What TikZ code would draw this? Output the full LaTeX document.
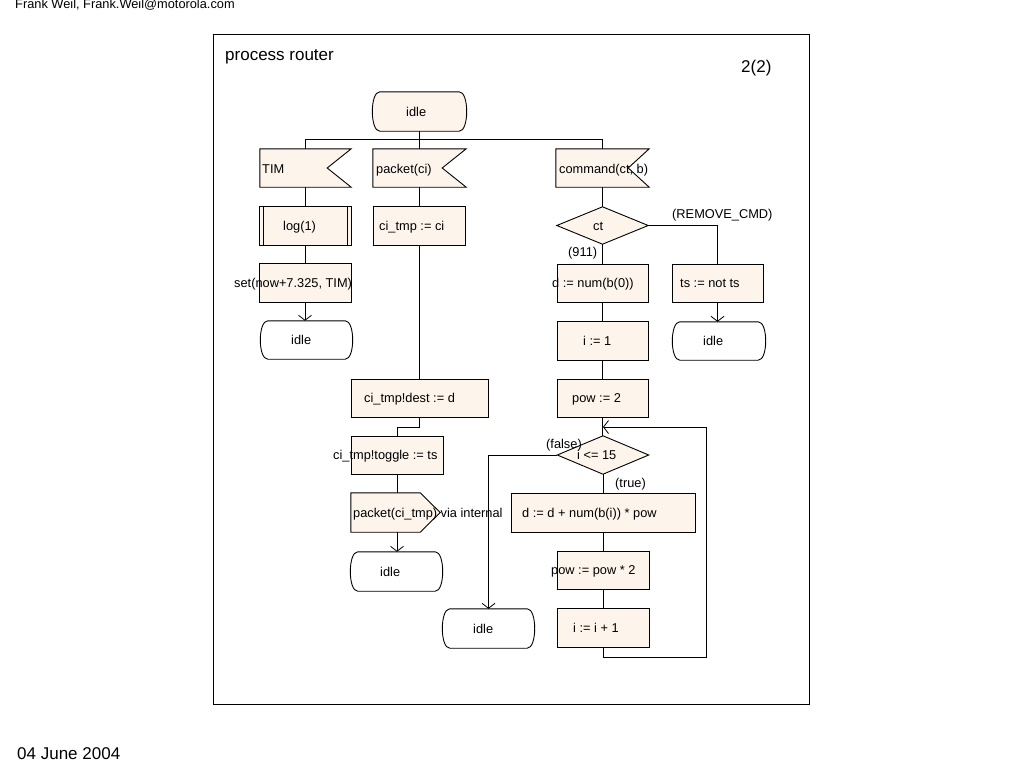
\documentclass[tikz,border=0pt]{standalone}
\usepackage{fontspec}
\setmainfont{Liberation Sans}
\usetikzlibrary{arrows.meta,calc}
\definecolor{cream}{RGB}{253,245,236}
\newcommand\TermShape[2]{%
  \draw[draw=black,line width=0.9pt,fill=#2] ([xshift=7pt]#1.north west) -- ([xshift=-7pt]#1.north east)
    .. controls ([xshift=3pt]#1.north east) and ([xshift=3pt]#1.south east) .. ([xshift=-7pt]#1.south east)
    -- ([xshift=7pt]#1.south west)
    .. controls ([xshift=-3pt]#1.south west) and ([xshift=-3pt]#1.north west) .. ([xshift=7pt]#1.north west) -- cycle;}
\begin{document}
\begin{tikzpicture}[x=1pt,y=-1pt,
  shp/.style={draw=none,fill=none,inner sep=0pt,minimum width=92pt,minimum height=39pt},
  box/.style={draw=black,fill=cream,line width=0.9pt,inner sep=0pt,minimum width=92pt,minimum height=39pt},
  outl/.style={draw=black,fill=cream,line width=0.9pt},
  txt/.style={anchor=west,inner sep=0pt,font=\fontsize{12.8}{14}\selectfont,text height=9pt,text depth=0pt},
  wire/.style={line width=0.8pt},
  arr/.style={wire,-{Straight Barb[length=5pt,width=13pt]}},
]
\useasboundingbox (0,0) rectangle (1024,768);
% frame and page texts
\draw[line width=0.9pt] (213,34) rectangle (809,704);
\node[anchor=base west,inner sep=0pt,font=\fontsize{12.8}{14}\selectfont] (hdr) at (15,9) {Frank Weil, Frank.Weil@motorola.com};
\node[anchor=base west,inner sep=0pt,font=\fontsize{17}{19}\selectfont] (date) at (17,759) {04 June 2004};
\node[anchor=base west,inner sep=0pt,font=\fontsize{17}{19}\selectfont] (title) at (225,60) {process router};
\node[anchor=base west,inner sep=0pt,font=\fontsize{17}{19}\selectfont] (page) at (741,72) {2(2)};

% start state
\node[shp,minimum width=93pt] (idle0) at (419.5,111.5) {};
\TermShape{idle0}{cream}

% input signals
\node[shp,minimum width=91pt,minimum height=38pt] (tim) at (305.5,168) {};
\node[shp,minimum width=93pt,minimum height=38pt] (pkt) at (419.5,168) {};
\node[shp,minimum width=93pt,minimum height=38pt] (cmd) at (602.5,168) {};
\draw[outl] (tim.north west) -- (tim.north east) -- ([xshift=-24pt]tim.east) -- (tim.south east) -- (tim.south west) -- cycle;
\draw[outl] (pkt.north west) -- (pkt.north east) -- ([xshift=-24pt]pkt.east) -- (pkt.south east) -- (pkt.south west) -- cycle;
\draw[outl] (cmd.north west) -- (cmd.north east) -- ([xshift=-21pt]cmd.east) -- (cmd.south east) -- (cmd.south west) -- cycle;

% left column
\node[box] (log) at (305,225.5) {};
\draw[line width=0.9pt] ([xshift=5pt]log.north west) -- ([xshift=5pt]log.south west);
\draw[line width=0.9pt] ([xshift=-4pt]log.north east) -- ([xshift=-4pt]log.south east);
\node[box] (set) at (305,282.5) {};
\node[shp,minimum width=91pt,minimum height=38pt] (idle1) at (306.5,340) {};
\TermShape{idle1}{white}

% middle column
\node[box] (citmp) at (419,225.5) {};
\node[box,minimum width=137pt,minimum height=38pt] (dest) at (419.5,398) {};
\node[box,minimum height=38pt] (toggle) at (397,455) {};
\node[shp,minimum width=89pt] (out) at (395.5,512.5) {};
\draw[outl] (out.north west) -- ([xshift=-20pt]out.north east) -- (out.east) -- ([xshift=-20pt]out.south east) -- (out.south west) -- cycle;
\node[shp,minimum width=91pt] (idle2) at (396.5,571.5) {};
\TermShape{idle2}{white}

% right columns
\node[shp,minimum width=91pt,minimum height=37pt] (ct) at (602.5,225.5) {};
\draw[outl] (ct.west) -- (ct.north) -- (ct.east) -- (ct.south) -- cycle;
\node[box,minimum width=91pt,minimum height=38pt] (dnum) at (602.5,283) {};
\node[box,minimum width=91pt,minimum height=38pt] (ts) at (717.5,283) {};
\node[shp,minimum height=38pt] (idle3) at (719,341) {};
\TermShape{idle3}{white}
\node[box,minimum width=91pt] (i1) at (602.5,340.5) {};
\node[box,minimum width=91pt,minimum height=38pt] (pow2) at (602.5,398) {};
\node[shp,minimum width=91pt,minimum height=38pt] (cond) at (603,455) {};
\draw[outl] (cond.west) -- (cond.north) -- (cond.east) -- (cond.south) -- cycle;
\node[box,minimum width=184pt] (dd) at (603,512.5) {};
\node[box,minimum height=38pt] (powx) at (603,570) {};
\node[box] (inc) at (603,627.5) {};
\node[shp,minimum width=91pt] (idle4) at (488.5,628.5) {};
\TermShape{idle4}{white}

% connectors
\coordinate (busL) at (305.5,139);
\coordinate (busR) at (602.5,139);
\coordinate (loopR) at (706,427);
\coordinate (join) at (603,427);
\draw[wire] (idle0.south) -- (idle0.south |- busL);
\draw[wire] (tim.north) -- (busL) -- (busR) -- (cmd.north);
\draw[wire] (pkt.north) -- (pkt.north |- busL);
\draw[wire] (tim.south) -- (tim.south |- log.north);
\draw[wire] (log.south) -- (log.south |- set.north);
\draw[arr] (set.south) -- (set.south |- idle1.north);
\draw[wire] (pkt.south) -- (pkt.south |- citmp.north);
\draw[wire] (citmp.south) -- (citmp.south |- dest.north);
\draw[wire] (dest.south) -- ++(0,10) -| (toggle.north);
\draw[wire] (toggle.south) -- (toggle.south |- out.north);
\draw[arr] (toggle.south |- out.south) -- (toggle.south |- idle2.north);
\draw[wire] (cmd.south) -- (cmd.south |- ct.north);
\draw[wire] (ct.south) -- (ct.south |- dnum.north);
\draw[wire] (ct.east) -| (ts.north);
\draw[arr] (ts.south) -- (ts.south |- idle3.north);
\draw[wire] (dnum.south) -- (dnum.south |- i1.north);
\draw[wire] (i1.south) -- (i1.south |- pow2.north);
\draw[wire] (pow2.south) -- (pow2.south |- cond.north);
\draw[wire] (cond.south) -- (cond.south |- dd.north);
\draw[wire] (dd.south) -- (dd.south |- powx.north);
\draw[wire] (powx.south) -- (powx.south |- inc.north);
\draw[arr] (inc.south) -- ++(0,10) -| (loopR) -- (join);
\draw[arr] (cond.west) -| (idle4.north);

% texts
\node[txt] (t0) at (406,111.5) {idle};
\node[txt] (t1) at (262,168.5) {TIM};
\node[txt] (t2) at (376,168.5) {packet(ci)};
\node[txt] (t3) at (559,168.5) {command(ct, b)};
\node[txt] (t4) at (283,225.5) {log(1)};
\node[txt] (t5) at (379,225.5) {ci\_tmp := ci};
\node[txt] (t6) at (234,282.5) {set(now+7.325, TIM)};
\node[txt] (t7) at (291,340) {idle};
\node[txt] (t8) at (593,226) {ct};
\node[txt] (t9) at (672,214) {(REMOVE\_CMD)};
\node[txt] (t10) at (568,252) {(911)};
\node[txt] (t11) at (552,283) {d := num(b(0))};
\node[txt] (t12) at (680,283) {ts := not ts};
\node[txt] (t13) at (703,341) {idle};
\node[txt] (t14) at (583,340.5) {i := 1};
\node[txt] (t15) at (572,398) {pow := 2};
\node[txt] (t16) at (364,398) {ci\_tmp!dest := d};
\node[txt] (t17) at (333,455) {ci\_tmp!toggle := ts};
\node[txt] (t18) at (353,513) {packet(ci\_tmp) via internal};
\node[txt] (t19) at (380,571.5) {idle};
\node[txt] (t20) at (546,444) {(false)};
\node[txt] (t21) at (577,455) {i <= 15};
\node[txt] (t22) at (615,483) {(true)};
\node[txt] (t23) at (522,512.5) {d := d + num(b(i)) * pow};
\node[txt] (t24) at (551,570) {pow := pow * 2};
\node[txt] (t25) at (573,627.5) {i := i + 1};
\node[txt] (t26) at (473,629) {idle};
\end{tikzpicture}
\end{document}
